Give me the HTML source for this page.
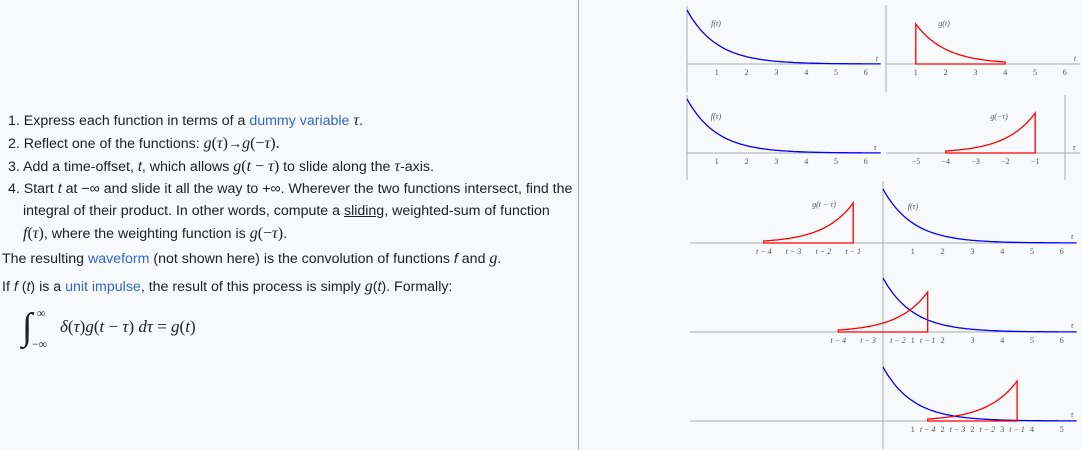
<!DOCTYPE html>
<html><head><meta charset="utf-8">
<style>
html,body{margin:0;padding:0;background:#f8f9fa;width:1083px;height:450px;overflow:hidden;font-family:"Liberation Sans",sans-serif;color:#202122}
#txt{position:absolute;left:0;top:0;width:578px;font-size:14.2px}
.ln{position:absolute;white-space:nowrap;line-height:18px}
a{color:#3366cc;text-decoration:none}
.m{font-family:"Liberation Serif","DejaVu Serif",serif;font-style:italic;font-size:16px}
.mr{font-family:"Liberation Serif","DejaVu Serif",serif;font-size:16px}
#div{position:absolute;left:578px;top:0;width:1px;height:450px;background:#a2a9b1}
svg{position:absolute;left:0;top:0}
</style></head><body>
<div id="txt">
<div class="ln" style="left:8px;top:112px">1. Express each function in terms of a <a href="#">dummy variable</a> <span class="m">τ</span>.</div>
<div class="ln" style="left:8px;top:135px">2. Reflect one of the functions: <span class="m">g</span><span class="mr">(</span><span class="m">τ</span><span class="mr">)</span>→<span class="m">g</span><span class="mr">(−</span><span class="m">τ</span><span class="mr">).</span></div>
<div class="ln" style="left:8px;top:158px">3. Add a time-offset, <i>t</i>, which allows <span class="m">g</span><span class="mr">(</span><span class="m">t</span><span class="mr"> − </span><span class="m">τ</span><span class="mr">)</span> to slide along the <span class="m">τ</span>-axis.</div>
<div class="ln" style="left:8px;top:180px">4. Start <i>t</i> at −∞ and slide it all the way to +∞. Wherever the two functions intersect, find the</div>
<div class="ln" style="left:23px;top:202px">integral of their product. In other words, compute a <u>sliding</u>, weighted-sum of function</div>
<div class="ln" style="left:23px;top:225px"><span class="m">f</span><span class="mr">(</span><span class="m">τ</span><span class="mr">)</span>, where the weighting function is <span class="m">g</span><span class="mr">(−</span><span class="m">τ</span><span class="mr">)</span>.</div>
<div class="ln" style="left:2px;top:250px">The resulting <a href="#">waveform</a> (not shown here) is the convolution of functions <i>f</i> and <span class="m">g</span>.</div>
<div class="ln" style="left:2px;top:278px">If <i>f</i> (<i>t</i>) is a <a href="#">unit impulse</a>, the result of this process is simply <span class="m">g</span>(<i>t</i>). Formally:</div>
<div class="ln" style="left:22px;top:304px;height:44px">
<span class="mr" style="position:absolute;left:0;top:4px;font-size:38px;line-height:38px;font-style:italic">∫</span>
<span class="mr" style="position:absolute;left:15px;top:0px;font-size:12px">∞</span>
<span class="mr" style="position:absolute;left:10px;top:31px;font-size:12px">−∞</span>
<span style="position:absolute;left:38px;top:14px;font-family:'Liberation Serif',serif;font-size:17px"><i>δ</i>(<i>τ</i>)<i>g</i>(<i>t</i> − <i>τ</i>) <i>dτ</i> = <i>g</i>(<i>t</i>)</span>
</div>
</div>
<div id="div"></div>
<svg id="ch" width="1083" height="450" font-family="Liberation Serif, serif" font-size="8" fill="#555"></svg>
<script>
// data
const decayRate = [1];
const fHeight = [54];
const gHeight = [40];
const gStart = [1];
const gEnd = [4];
const shiftTimes = [0, 2.5, 5.5];
const tickLabelsPos = ['1','2','3','4','5','6'];
const tickLabelsNeg = ['−5','−4','−3','−2','−1'];
const shiftTickLabels = ['t − 4','t − 3','t − 2','t − 1'];
const lastRowTicks = ['1','t − 4','2','t − 3','2','t − 2','3','t − 1','4','5'];

const svg = document.getElementById('ch');
const NS = 'http://www.w3.org/2000/svg';
function mk(tag, attrs){const e=document.createElementNS(NS,tag);for(const k in attrs)e.setAttribute(k,attrs[k]);svg.appendChild(e);return e;}
function f(x){return Math.exp(-decayRate[0]*x);}
function g(x){return (x>=gStart[0]&&x<=gEnd[0])?Math.exp(-(x-gStart[0])):0;}

function axes(ox, oy, x0, x1, y0, y1, name){
  let a=mk('line',{x1:x0,y1:oy,x2:x1,y2:oy,stroke:'#aaa','stroke-width':1});
  
  
  let b=mk('line',{x1:ox,y1:y0,x2:ox,y2:y1,stroke:'#aaa','stroke-width':1});
  
  
}
function txt(x,y,s,name,it){const t=mk('text',{x:x,y:y,'text-anchor':'middle','font-style':it?'italic':'normal'});t.textContent=s;
  
  
  return t;}
function curveF(ox,oy,u,xmax,name){
  let d='';for(let i=0;i<=120;i++){const x=xmax*i/120;d+=(i?'L':'M')+(ox+x*u).toFixed(1)+','+(oy-fHeight[0]*f(x)).toFixed(1);}
  const p=mk('path',{d:d,fill:'none',stroke:'#0000ff','stroke-width':1.3});
  
  
}
function curveG(ox,oy,u,t,reflect,name){
  let pts=[];
  const a=reflect?t-gEnd[0]:gStart[0], b=reflect?t-gStart[0]:gEnd[0];
  for(let i=0;i<=80;i++){const tau=a+(b-a)*i/80;const v=reflect?g(t-tau):g(tau);pts.push([ox+tau*u,oy-gHeight[0]*v]);}
  let d='M'+(ox+a*u).toFixed(1)+','+oy;
  pts.forEach(p=>d+='L'+p[0].toFixed(1)+','+p[1].toFixed(1));
  d+='L'+(ox+b*u).toFixed(1)+','+oy+'Z';
  const p=mk('path',{d:d,fill:'none',stroke:'#ff0000','stroke-width':1.3});
  
  
}
const U=29.8;
axes(687,64,687,880,6,92,'f-t-panel');
curveF(687,64,U,6.5,'f-t-curve');
tickLabelsPos.forEach((s,i)=>txt(687+(i+1)*U,75,s,'f-t-tick'));
txt(877,61,'t','f-t-axis-label',true); txt(716,26,'f(t)','f-t-label',true);
axes(886,64,886,1080,5,92,'g-t-panel');
curveG(886,64,U,0,false,'g-t-curve');
tickLabelsPos.forEach((s,i)=>txt(886+(i+1)*U,75,s,'g-t-tick'));
txt(1075,61,'t','g-t-axis-label',true); txt(944,26,'g(t)','g-t-label',true);
axes(687,153,687,880,95,180,'f-tau-panel');
curveF(687,153,U,6.5,'f-tau-curve');
tickLabelsPos.forEach((s,i)=>txt(687+(i+1)*U,164,s,'f-tau-tick'));
txt(875,150,'τ','f-tau-axis-label',true); txt(716,119,'f(τ)','f-tau-label',true);
axes(1065,153,886,1080,95,180,'g-neg-tau-panel');
curveG(1065,153,U,0,true,'g-neg-tau-curve');
tickLabelsNeg.forEach((s,i)=>txt(1065-(5-i)*U,164,s,'g-neg-tau-tick'));
txt(1074,150,'τ','g-neg-tau-axis-label',true); txt(999,119,'g(−τ)','g-neg-tau-label',true);
const rows=[243,332,421];
rows.forEach((oy,r)=>{
  const t=shiftTimes[r];
  axes(883,oy,690,1076,oy-62,oy+28,'slide-panel-'+(r+1));
  curveF(883,oy,U,6.5,'slide-f-curve-'+(r+1));
  curveG(883,oy,U,t,true,'slide-g-curve-'+(r+1));
  txt(1072,oy-4,'τ','slide-axis-label-'+(r+1),true);
});
tickLabelsPos.forEach((s,i)=>txt(883+(i+1)*U,254,s,'slide-1-tick'));
shiftTickLabels.forEach((s,i)=>txt(883+(shiftTimes[0]-4+i)*U,254,s,'slide-1-shift-tick',true));
txt(824,207,'g(t − τ)','g-t-minus-tau-label',true); txt(913,209,'f(τ)','slide-f-label',true);
tickLabelsPos.forEach((s,i)=>txt(883+(i+1)*U,343,s,'slide-2-tick'));
shiftTickLabels.forEach((s,i)=>txt(883+(shiftTimes[1]-4+i)*U,343,s,'slide-2-shift-tick',true));
const lastPos=[1,1.5,2,2.5,3,3.5,4,4.5,5,6];
lastRowTicks.forEach((s,i)=>txt(883+lastPos[i]*U,432,s,'slide-3-tick',s.length>1));
</script>
</body></html>
